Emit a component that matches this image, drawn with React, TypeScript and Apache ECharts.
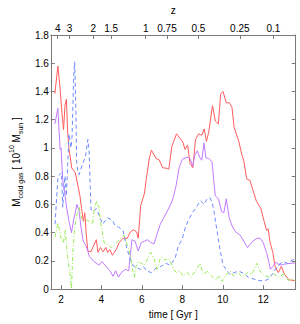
import React, { useEffect, useRef } from "react";
import * as echarts from "echarts";

// time [Gyr] vs cold gas mass [1e10 Msun]
const redSeries: [number, number][] = [
  [1.7, 1.385], [1.85, 1.58], [1.96, 1.42], [2.05, 1.25], [2.13, 1.13], [2.2, 1.3], [2.27, 1.345],
  [2.33, 1.12], [2.4, 0.99], [2.47, 0.93], [2.53, 0.86], [2.62, 0.84], [2.71, 0.825],
  [2.8, 0.76], [2.94, 0.66], [3.02, 0.57], [3.11, 0.48], [3.18, 0.54], [3.25, 0.39],
  [3.33, 0.27], [3.49, 0.265], [3.61, 0.305], [3.75, 0.35], [3.83, 0.26], [3.95, 0.295],
  [4.08, 0.265], [4.22, 0.295], [4.31, 0.26], [4.42, 0.28], [4.54, 0.24], [4.73, 0.28],
  [4.88, 0.33], [5.07, 0.36], [5.28, 0.36], [5.43, 0.405], [5.58, 0.42], [5.74, 0.405],
  [5.82, 0.36], [5.94, 0.59], [6.13, 0.68], [6.21, 0.77], [6.36, 0.92], [6.47, 0.985],
  [6.7, 0.925], [6.86, 0.915], [7.02, 0.86], [7.25, 0.855], [7.33, 0.85], [7.48, 1.01],
  [7.71, 1.1], [7.87, 1.07], [8.03, 1.04], [8.13, 0.99], [8.26, 1.02], [8.38, 0.89],
  [8.52, 0.86], [8.65, 1.06], [8.8, 1.1], [8.96, 1.09], [9.08, 1.135], [9.19, 1.046],
  [9.3, 1.11], [9.49, 1.3], [9.63, 1.19], [9.78, 1.17], [9.89, 1.38], [10.01, 1.4],
  [10.17, 1.32], [10.32, 1.32], [10.45, 1.29], [10.56, 1.145], [10.79, 1.046], [10.95, 0.946],
  [11.03, 0.913], [11.18, 0.78], [11.34, 0.77], [11.49, 0.7], [11.65, 0.626], [11.88, 0.57],
  [12.04, 0.48], [12.16, 0.415], [12.24, 0.427], [12.34, 0.327], [12.47, 0.26], [12.58, 0.16],
  [12.74, 0.117], [12.89, 0.16], [13.04, 0.106], [13.28, 0.066], [13.56, 0.06],
];

const violetSeries: [number, number][] = [
  [1.7, 1.17], [1.85, 1.28], [1.96, 0.99], [2.01, 1.0], [2.09, 0.77], [2.17, 0.7], [2.27, 0.59],
  [2.4, 0.48], [2.52, 0.4], [2.63, 0.49], [2.79, 0.6], [2.9, 0.55], [2.99, 0.44],
  [3.1, 0.34], [3.25, 0.305], [3.41, 0.23], [3.64, 0.195], [3.88, 0.17], [4.03, 0.195],
  [4.26, 0.155], [4.42, 0.13], [4.58, 0.09], [4.7, 0.13], [4.84, 0.085], [5.01, 0.12],
  [5.17, 0.14], [5.35, 0.13], [5.51, 0.35], [5.66, 0.34], [5.82, 0.27], [5.97, 0.33],
  [6.13, 0.34], [6.28, 0.35], [6.44, 0.33], [6.6, 0.32], [6.75, 0.39], [6.91, 0.46],
  [7.06, 0.5], [7.25, 0.55], [7.45, 0.61], [7.53, 0.64], [7.68, 0.725], [7.84, 0.86],
  [8.0, 0.92], [8.23, 0.935], [8.38, 0.925], [8.51, 0.87], [8.61, 0.946], [8.74, 0.98],
  [8.85, 0.935], [8.96, 0.913], [9.07, 1.035], [9.16, 0.93], [9.31, 0.925], [9.47, 0.9],
  [9.55, 0.77], [9.63, 0.66], [9.78, 0.64], [9.94, 0.55], [10.05, 0.54], [10.17, 0.64],
  [10.32, 0.5], [10.48, 0.44], [10.63, 0.405], [10.87, 0.38], [11.03, 0.34], [11.22, 0.294],
  [11.34, 0.316], [11.49, 0.34], [11.69, 0.36], [11.85, 0.36], [12.0, 0.327], [12.16, 0.26],
  [12.27, 0.195], [12.35, 0.14], [12.47, 0.16], [12.62, 0.19], [12.8, 0.17], [13.0, 0.175],
  [13.2, 0.18], [13.56, 0.185],
];

const blueSeries: [number, number][] = [
  [1.71, 0.46], [1.85, 0.79], [1.93, 0.81], [2.03, 0.825], [2.09, 0.58], [2.2, 0.8],
  [2.27, 0.66], [2.4, 1.1], [2.5, 1.0], [2.55, 1.08], [2.63, 1.5], [2.68, 1.61],
  [2.74, 1.25], [2.78, 0.9], [2.84, 0.83], [2.9, 0.81], [3.05, 0.88], [3.21, 0.935],
  [3.33, 1.06], [3.39, 0.98], [3.45, 0.72], [3.49, 0.56], [3.6, 0.55], [3.75, 0.57],
  [3.91, 0.515], [4.06, 0.46], [4.3, 0.505], [4.53, 0.49], [4.68, 0.45], [4.84, 0.44],
  [5.07, 0.415], [5.23, 0.305], [5.38, 0.23], [5.54, 0.17], [5.77, 0.15], [5.93, 0.14],
  [6.08, 0.16], [6.24, 0.128], [6.47, 0.117], [6.7, 0.15], [6.94, 0.16], [7.17, 0.183],
  [7.4, 0.17], [7.64, 0.216], [7.79, 0.3], [8.0, 0.36], [8.15, 0.44], [8.31, 0.49],
  [8.49, 0.54], [8.69, 0.58], [8.89, 0.626], [9.08, 0.6], [9.21, 0.637], [9.36, 0.648],
  [9.47, 0.615], [9.55, 0.56], [9.71, 0.415], [9.86, 0.28], [10.01, 0.17], [10.17, 0.14],
  [10.33, 0.106], [10.56, 0.117], [10.79, 0.128], [11.03, 0.11], [11.26, 0.084], [11.49, 0.073],
  [11.72, 0.062], [12.04, 0.057], [12.27, 0.073], [12.5, 0.117], [12.74, 0.17], [12.97, 0.195],
  [13.2, 0.183], [13.43, 0.206], [13.58, 0.212],
];

const greenSeries: [number, number][] = [
  [1.71, 0.37], [1.85, 0.47], [2.01, 0.36], [2.12, 0.327], [2.21, 0.415], [2.32, 0.24],
  [2.43, 0.128], [2.52, 0.0], [2.59, 0.26], [2.68, 0.44], [2.79, 0.526], [2.9, 0.58],
  [3.02, 0.5], [3.14, 0.48], [3.25, 0.49], [3.41, 0.48], [3.56, 0.46], [3.64, 0.56],
  [3.77, 0.626], [3.88, 0.58], [3.95, 0.48], [4.03, 0.415], [4.14, 0.327], [4.3, 0.316],
  [4.5, 0.294], [4.65, 0.316], [4.81, 0.34], [4.96, 0.36], [5.12, 0.38], [5.27, 0.316],
  [5.43, 0.24], [5.54, 0.14], [5.63, 0.084], [5.71, 0.16], [5.82, 0.195], [5.97, 0.183],
  [6.13, 0.17], [6.28, 0.216], [6.44, 0.26], [6.6, 0.216], [6.75, 0.14], [6.88, 0.206],
  [6.98, 0.228], [7.14, 0.206], [7.29, 0.216], [7.4, 0.2], [7.56, 0.14], [7.71, 0.117],
  [7.87, 0.128], [8.03, 0.095], [8.26, 0.117], [8.41, 0.084], [8.65, 0.128], [8.88, 0.183],
  [9.03, 0.106], [9.27, 0.128], [9.42, 0.095], [9.66, 0.062], [9.81, 0.095], [9.97, 0.055],
  [10.12, 0.095], [10.36, 0.128], [10.51, 0.095], [10.74, 0.117], [10.98, 0.084], [11.21, 0.117],
  [11.44, 0.106], [11.68, 0.183], [11.83, 0.128], [12.06, 0.095], [12.3, 0.084], [12.53, 0.106],
  [12.76, 0.084], [12.99, 0.106], [13.23, 0.062], [13.46, 0.073], [13.58, 0.062],
];

const timeTicks = [2, 4, 6, 8, 10, 12];
const zLabels = ["4", "3", "2", "1.5", "1", "0.75", "0.5", "0.25", "0.1"];
const zTickTimes = [1.84, 2.43, 3.6, 4.48, 6.19, 7.24, 8.79, 10.84, 12.5];

const X_MIN = 1.5;
const X_MAX = 13.6;
const FONT = "'Liberation Sans', Arial, sans-serif";
const AXIS_COLOR = "#7a7a7a";

export default function App() {
  const ref = useRef<HTMLDivElement>(null);
  useEffect(() => {
    if (!ref.current) return;
    const chart = echarts.init(ref.current, undefined, { renderer: "svg" });
    const baseAxisLine = { show: true, lineStyle: { color: AXIS_COLOR, width: 1 } };
    const tick = { show: true, inside: true, length: 4, lineStyle: { color: AXIS_COLOR } };
    const label = { color: "#000", fontSize: 10, fontFamily: FONT };
    chart.setOption({
      animation: false,
      backgroundColor: "#fff",
      textStyle: { fontFamily: FONT },
      grid: { left: 36.7, right: 4.3, top: 27.5, bottom: 24.7, containLabel: false },
      xAxis: [
        {
          type: "value",
          position: "bottom",
          min: X_MIN,
          max: X_MAX,
          axisLine: { ...baseAxisLine, onZero: false },
          axisTick: { ...tick, customValues: timeTicks },
          axisLabel: { ...label, customValues: timeTicks, margin: 5 },
          splitLine: { show: false },
          name: "time [ Gyr ]",
          nameLocation: "middle",
          nameGap: 17,
          nameTextStyle: { color: "#000", fontSize: 10, fontFamily: FONT },
        },
        {
          type: "value",
          position: "top",
          min: X_MIN,
          max: X_MAX,
          axisLine: { ...baseAxisLine, onZero: false },
          axisTick: { ...tick, customValues: zTickTimes },
          axisLabel: {
            ...label,
            customValues: zTickTimes,
            margin: 2,
            formatter: (v: number) => {
              const i = zTickTimes.findIndex((t) => Math.abs(t - v) < 1e-6);
              return i >= 0 ? zLabels[i] : "";
            },
          },
          splitLine: { show: false },
          name: "z",
          nameLocation: "middle",
          nameGap: 20,
          nameTextStyle: { color: "#000", fontSize: 10, fontFamily: FONT },
        },
      ],
      yAxis: [
        {
          type: "value",
          position: "left",
          min: 0,
          max: 1.8,
          interval: 0.2,
          axisLine: { ...baseAxisLine, onZero: false },
          axisTick: tick,
          axisLabel: { ...label, margin: 2 },
          splitLine: { show: false },
          name:
            "{m|M}{s|cold gas}{m| [ 10}{p|10}{m| M}{s|sun}{m| ]}",
          nameLocation: "middle",
          nameRotate: 90,
          nameGap: 25,
          nameTextStyle: {
            color: "#000",
            fontFamily: FONT,
            rich: {
              m: { fontSize: 10, lineHeight: 16, verticalAlign: "middle", fontFamily: FONT, color: "#000" },
              s: { fontSize: 7, lineHeight: 16, verticalAlign: "bottom", fontFamily: FONT, color: "#000" },
              p: { fontSize: 7, lineHeight: 16, verticalAlign: "top", fontFamily: FONT, color: "#000" },
            },
          },
        },
        {
          type: "value",
          position: "right",
          min: 0,
          max: 1.8,
          interval: 0.2,
          axisLine: { ...baseAxisLine, onZero: false },
          axisTick: tick,
          axisLabel: { show: false },
          splitLine: { show: false },
        },
      ],
      series: [
        {
          type: "line",
          data: redSeries,
          showSymbol: false,
          lineStyle: { color: "#ff5c5c", width: 1 },
          xAxisIndex: 0,
          yAxisIndex: 0,
        },
        {
          type: "line",
          data: violetSeries,
          showSymbol: false,
          lineStyle: { color: "#c27aff", width: 1 },
          xAxisIndex: 0,
          yAxisIndex: 0,
        },
        {
          type: "line",
          data: blueSeries,
          showSymbol: false,
          lineStyle: { color: "#6b8bff", width: 1, type: [4, 3] },
          xAxisIndex: 0,
          yAxisIndex: 0,
        },
        {
          type: "line",
          data: greenSeries,
          showSymbol: false,
          lineStyle: { color: "#97ec55", width: 1, type: [4, 2, 1, 2] },
          xAxisIndex: 0,
          yAxisIndex: 0,
        },
      ],
    });
    return () => chart.dispose();
  }, []);
  return (
    <div
      ref={ref}
      style={{ position: "fixed", left: 0, top: 0, width: 300, height: 324, background: "#fff" }}
    />
  );
}
